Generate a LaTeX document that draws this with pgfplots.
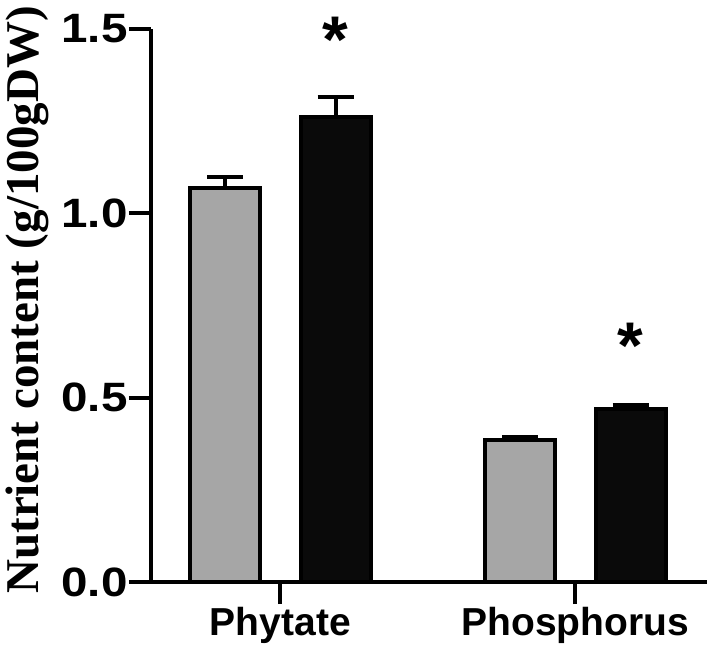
\documentclass[border=0pt]{standalone}
\usepackage{fontspec}
\setmainfont{Liberation Sans}
\newfontfamily\serifb{Liberation Serif}
\newfontfamily\tickfont[FakeStretch=1.16]{Liberation Sans}
\usepackage{pgfplots}
\pgfplotsset{compat=1.18}
\definecolor{bargray}{HTML}{A6A6A6}
\definecolor{barblack}{HTML}{0A0A0A}
\begin{document}
\begin{tikzpicture}
\useasboundingbox (-151pt,-80pt) rectangle (556pt,582pt);
\begin{axis}[
  at={(0,0)}, anchor=south west,
  scale only axis, width=556pt, height=553pt,
  xmin=0.5614, xmax=2.4464, ymin=0, ymax=1.5,
  clip=false,
  axis lines=left,
  axis line style={-, line width=4pt, black},
  xtick={1,2}, xticklabels={Phytate, Phosphorus},
  ytick={0,0.5,1,1.5},
  tick style={line width=4pt, black},
  major tick length=22pt,
  tick align=outside,
  xticklabel style={font=\fontsize{39}{40}\selectfont\bfseries},
  yticklabel style={font=\tickfont\fontsize{41}{42}\selectfont\bfseries, xshift=2pt,
    /pgf/number format/fixed, /pgf/number format/fixed zerofill,
    /pgf/number format/precision=1, /pgf/number format/assume math mode=true},
  ylabel={Nutrient content (g/100gDW)},
  ylabel style={font=\serifb\fontsize{47}{48}\selectfont\bfseries, at={(axis description cs:-0.223,0.51)}, anchor=center},
]
\addplot[ybar, bar width=0.237, bar shift=0, fill=bargray, draw=black, line width=4pt,
  error bars/.cd, y dir=plus, y explicit,
  error bar style={line width=4pt, black},
  error mark options={rotate=90, line width=4pt, mark size=18pt, black}]
  coordinates {(0.8125,1.07) +- (0,0.028) (1.8125,0.385) +- (0,0.008)};
\addplot[ybar, bar width=0.237, bar shift=0, fill=barblack, draw=black, line width=4pt,
  error bars/.cd, y dir=plus, y explicit,
  error bar style={line width=4pt, black},
  error mark options={rotate=90, line width=4pt, mark size=18pt, black}]
  coordinates {(1.1875,1.26) +- (0,0.055) (2.1875,0.469) +- (0,0.011)};
\node[font=\fontsize{66}{66}\selectfont\bfseries, anchor=base, inner sep=0pt] at (axis cs:1.1875,1.41) {*};
\node[font=\fontsize{66}{66}\selectfont\bfseries, anchor=base, inner sep=0pt] at (axis cs:2.1875,0.5796) {*};
\end{axis}
\end{tikzpicture}
\end{document}
